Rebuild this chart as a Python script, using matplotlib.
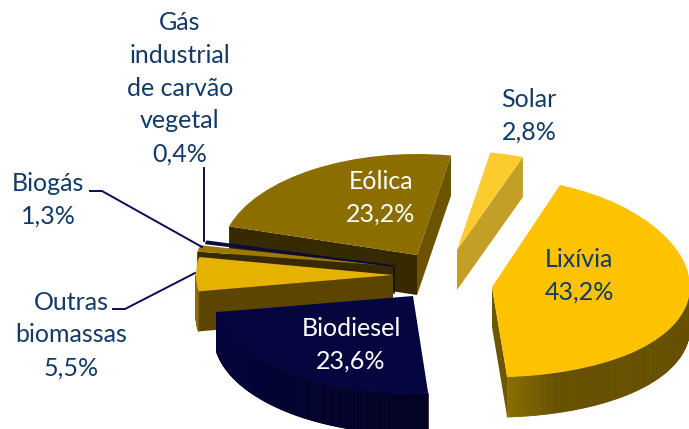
import numpy as np
import matplotlib
matplotlib.use("Agg")
import matplotlib.pyplot as plt
from matplotlib.collections import PolyCollection
from matplotlib.colors import to_rgb
from matplotlib.patches import Polygon
from matplotlib.transforms import Transform

# ---- data ----
categories = ["Solar", "Lixívia", "Biodiesel", "Outras\nbiomassas", "Biogás",
              "Gás\nindustrial\nde carvão\nvegetal", "Eólica"]
values = [2.8, 43.2, 23.6, 5.5, 1.3, 0.4, 23.2]

# ---- layout and style, per slice (pixel space of the 689x429 image) ----
apex_x = [457, 492, 413, 393, 393, 393, 417]
apex_y = [250, 287, 296, 275, 266, 266, 255]
radius_x = [192, 198, 199, 197, 199, 194, 196]
radius_ya = [99, 99.7, 98, 100, 80, 87, 101]     # vertical radius
radius_yb = [0, 9.45, 0, 0, 0, 0, 0]             # perspective term
top_colors = ["#FCCB2E", "#FDC300", "#05053F", "#E5B200", "#9C7A00", "#0A0A40", "#8C6D00"]
edge_widths = [0, 0, 0, 0, 0, 1.2, 0]
arc_left = ["#000000", "#8B6D00", "#04043A", "#8B6D00", "#382A00", "#0A0A30", "#000000"]
arc_right = ["#000000", "#665000", "#010120", "#8B6D00", "#382A00", "#0A0A30", "#000000"]
arc_fade = [1, 0.28, 1, 1, 1, 1, 1]
# side faces: colour of the cut at the clockwise-first edge and the clockwise-last edge
face_first = [None, None, None, "#5C4500", "#382A00", "#0A0A30", "#382A00"]
face_last = ["#C49F28", "#6E5600", None, None, None, None, "#6B5300"]
z_order = [1, 1, 8, 6, 4, 5, 3]
text_colors = ["#123A66", "#123A66", "white", "#123A66", "#123A66", "#123A66", "white"]
label_x = [529, 579, 351, 71, 48, 180, 381]
label_y = [116, 276, 345, 335, 200, 88, 198]
DEPTH = 40
START = 80
LEADER = "#0A0A55"
FONT = "Lato"
FONT_SIZE = 18
LINE_SPACING = 1.52


class Projection(Transform):
    """Maps the unit pie onto a tilted disc in pixel space."""
    input_dims = output_dims = 2
    has_inverse = False
    is_separable = False

    def __init__(self, cx, cy, rx, ya, yb):
        super().__init__()
        self.p = (cx, cy, rx, ya, yb)

    def transform_non_affine(self, xy):
        cx, cy, rx, ya, yb = self.p
        xy = np.asarray(xy, float)
        return np.column_stack([cx + rx * xy[:, 0],
                                cy - xy[:, 1] * (ya + yb * xy[:, 1])])


def unit(t):
    t = np.radians(t)
    return np.column_stack([np.cos(t), np.sin(t)])


fig = plt.figure(figsize=(6.89, 4.29), dpi=100)
ax = fig.add_axes([0, 0, 1, 1])
wedges, _ = ax.pie(values, startangle=START, counterclock=False, colors=top_colors,
                   wedgeprops=dict(linewidth=0))
ax.set_aspect("auto")
ax.set_xlim(0, 689)
ax.set_ylim(429, 0)
ax.axis("off")

for i, w in enumerate(wedges):
    proj = Projection(apex_x[i], apex_y[i], radius_x[i], radius_ya[i], radius_yb[i])
    w.set_transform(proj + ax.transData)
    w.set_clip_on(False)
    w.set_zorder(z_order[i] + 0.5)
    if edge_widths[i]:
        w.set_edgecolor(top_colors[i])
        w.set_linewidth(edge_widths[i])
    apex = proj.transform_non_affine(np.array([[0.0, 0.0]]))[0]
    zw = z_order[i] + 0.2

    # curved outer wall: only the part of the rim facing the viewer
    ts = np.linspace(w.theta1, w.theta2, 240)
    ts = ts[np.sin(np.radians(ts)) < 0]
    if len(ts) > 1:
        rim = proj.transform_non_affine(unit(ts))
        x0, x1 = rim[:, 0].min(), rim[:, 0].max()
        c0, c1 = np.array(to_rgb(arc_left[i])), np.array(to_rgb(arc_right[i]))
        quads, cols = [], []
        for a, b in zip(rim[:-1], rim[1:]):
            quads.append([a, b, b + [0, DEPTH], a + [0, DEPTH]])
            f = min(1, ((a[0] + b[0]) / 2 - x0) / (x1 - x0) / arc_fade[i])
            cols.append(c0 + (c1 - c0) * f)
        ax.add_collection(PolyCollection(quads, facecolors=cols, edgecolors=cols,
                                         linewidths=0.6, zorder=zw), autolim=False)

    # flat cut faces: clockwise travel runs from theta2 down to theta1
    for edge_t, col, hide in ((w.theta2, face_first[i], edge_widths[i] > 0),
                              (w.theta1, face_last[i], False)):
        if col is None or hide:
            continue
        end = proj.transform_non_affine(unit(np.array([edge_t])))[0]
        ax.add_patch(Polygon([apex, end, end + [0, DEPTH], apex + [0, DEPTH]],
                             closed=True, facecolor=col, edgecolor="none", zorder=zw))

for i, (name, val) in enumerate(zip(categories, values)):
    txt = f"{name}\n{val:.1f}%".replace(".", ",")
    ax.text(label_x[i], label_y[i], txt, ha="center", va="center", color=text_colors[i],
            family=FONT, fontsize=FONT_SIZE, linespacing=LINE_SPACING, zorder=20)

# dark seam where the thin slices meet the Eólica wall
ax.plot([394, 394], [267, 293], color="#151000", lw=1.2, zorder=7)

# leader lines
ax.plot([204, 204], [168, 241], color=LEADER, lw=1.4, zorder=15)
ax.plot([90, 102, 202], [191, 191, 247], color=LEADER, lw=1.4, zorder=15)
ax.plot([113, 125, 195], [309, 309, 273], color=LEADER, lw=1.4, zorder=15)

fig.savefig("out.png", dpi=100)
